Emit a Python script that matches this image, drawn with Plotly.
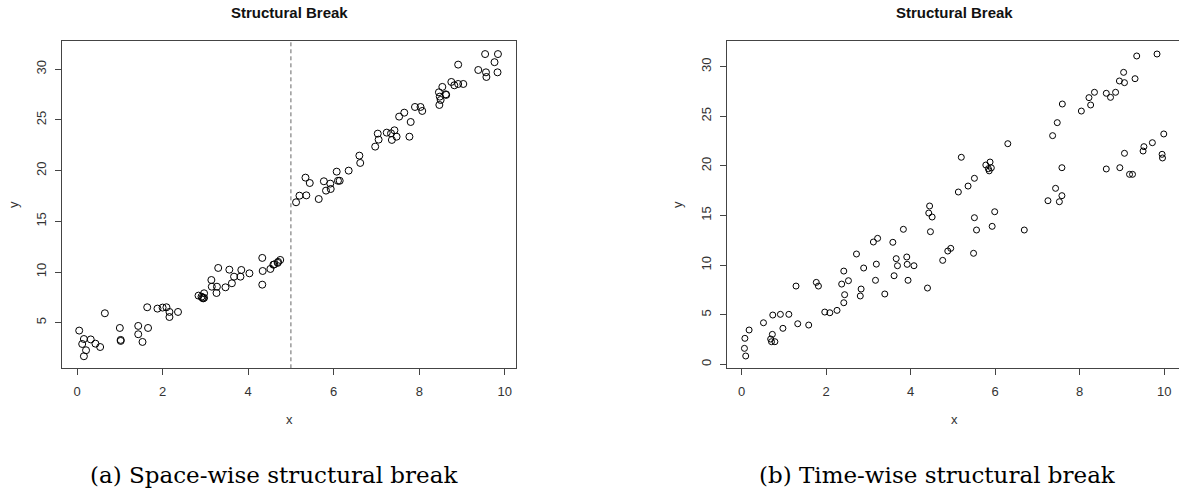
import plotly.graph_objects as go

# ---- data: panel (a) space-wise break ----
xa = [0.05, 0.16, 0.12, 0.32, 0.43, 0.54, 0.21, 0.16, 0.65, 1.00,
      1.02, 1.02, 1.43, 1.43, 1.53, 1.66, 1.64, 1.88, 2.00, 2.09,
      2.16, 2.16, 2.36, 2.84, 2.91, 2.95, 2.97, 2.97, 2.93, 3.14,
      3.15, 3.27, 3.26, 3.30, 3.47, 3.56, 3.62, 3.67, 3.82, 3.84,
      4.03, 4.33, 4.34, 4.33, 4.52, 4.59, 4.61, 4.69, 4.70, 4.75,
      5.12, 5.20, 5.36, 5.34, 5.44, 5.65, 5.77, 5.82, 5.93, 5.92,
      6.07, 6.10, 6.14, 6.35, 6.60, 6.62, 6.97, 7.03, 7.05, 7.24,
      7.34, 7.36, 7.42, 7.47, 7.53, 7.65, 7.77, 7.80, 7.90, 8.03,
      8.07, 8.46, 8.47, 8.48, 8.50, 8.54, 8.62, 8.63, 8.75, 8.82,
      8.91, 8.91, 9.03, 9.38, 9.54, 9.56, 9.57, 9.76, 9.83, 9.84]
ya = [4.22, 3.39, 2.90, 3.35, 2.93, 2.60, 2.28, 1.69, 5.93, 4.48,
      3.30, 3.20, 4.68, 3.86, 3.10, 4.48, 6.52, 6.39, 6.49, 6.52,
      6.06, 5.56, 6.06, 7.67, 7.57, 7.40, 7.45, 7.90, 7.45, 9.21,
      8.55, 8.55, 7.93, 10.40, 8.49, 10.23, 8.89, 9.54, 9.54, 10.20,
      9.87, 11.39, 10.10, 8.75, 10.30, 10.72, 10.75, 10.90, 11.00, 11.19,
      16.88, 17.53, 17.56, 19.31, 18.78, 17.20, 18.95, 18.03, 18.19, 18.72,
      19.90, 19.00, 19.00, 20.00, 21.48, 20.76, 22.37, 23.65, 23.06, 23.75,
      23.68, 23.03, 23.98, 23.35, 25.33, 25.72, 23.35, 24.80, 26.28, 26.28,
      25.89, 27.73, 26.48, 27.30, 26.97, 28.26, 27.53, 27.47, 28.75, 28.42,
      28.55, 30.46, 28.55, 29.93, 31.50, 29.70, 29.24, 30.70, 29.70, 31.50]
break_x = 5

# ---- data: panel (b) time-wise break ----
xb = [0.10, 0.07, 0.08, 0.18, 0.52, 0.73, 0.69, 0.71, 0.79, 0.74,
      0.92, 0.98, 1.12, 1.29, 1.33, 1.59, 1.77, 1.82, 1.97, 2.09,
      2.26, 2.37, 2.42, 2.42, 2.44, 2.53, 2.72, 2.81, 2.83, 2.89,
      3.12, 3.17, 3.19, 3.22, 3.39, 3.58, 3.61, 3.66, 3.69, 3.83,
      3.91, 3.92, 3.94, 4.08, 4.40, 4.43, 4.45, 4.47, 4.51, 4.76,
      4.88, 4.95, 5.13, 5.20, 5.36, 5.49, 5.51, 5.51, 5.56, 5.78,
      5.84, 5.86, 5.88, 5.91, 5.93, 5.99, 6.30, 6.69, 7.25, 7.36,
      7.43, 7.47, 7.52, 7.58, 7.58, 7.59, 8.04, 8.22, 8.26, 8.35,
      8.63, 8.63, 8.73, 8.85, 8.94, 8.95, 9.04, 9.06, 9.06, 9.18,
      9.25, 9.31, 9.35, 9.50, 9.52, 9.72, 9.83, 9.95, 9.96, 9.99]
yb = [0.84, 1.61, 2.62, 3.46, 4.19, 3.02, 2.55, 2.28, 2.28, 4.97,
      5.04, 3.63, 5.04, 7.89, 4.09, 3.96, 8.26, 7.89, 5.27, 5.20,
      5.44, 8.09, 9.40, 6.21, 7.02, 8.43, 11.12, 6.89, 7.59, 9.71,
      12.33, 8.47, 10.10, 12.70, 7.09, 12.30, 8.93, 10.65, 9.94, 13.61,
      10.82, 10.08, 8.47, 9.94, 7.69, 15.25, 15.96, 13.37, 14.85, 10.48,
      11.42, 11.69, 17.37, 20.87, 17.97, 11.19, 14.78, 18.75, 13.54, 20.09,
      19.72, 19.50, 20.39, 19.80, 13.91, 15.38, 22.24, 13.54, 16.49, 23.05,
      17.74, 24.36, 16.39, 17.00, 19.82, 26.24, 25.53, 26.88, 26.14, 27.42,
      27.32, 19.69, 26.91, 27.42, 28.56, 19.82, 29.43, 28.39, 21.27, 19.15,
      19.15, 28.79, 31.08, 21.50, 21.94, 22.34, 31.28, 21.17, 20.80, 23.22]

x_ticks = [0, 2, 4, 6, 8, 10]
ya_ticks = [5, 10, 15, 20, 25, 30]
yb_ticks = [0, 5, 10, 15, 20, 25, 30]
title_text = "Structural Break"
captions = ["(a) Space-wise structural break", "(b) Time-wise structural break"]

W, H = 1179, 492
def px(v):
    return v / W
def py(v):
    return 1 - v / H

AX = "#444444"
SANS = "Liberation Sans, Arial, sans-serif"
TICKFONT = dict(family=SANS, size=13, color="#333333")

fig = go.Figure()
fig.add_trace(go.Scatter(x=xa, y=ya, mode="markers", xaxis="x", yaxis="y",
                         marker=dict(symbol="circle-open", size=7, color="black",
                                     line=dict(width=1, color="black")),
                         showlegend=False, hoverinfo="x+y"))
fig.add_trace(go.Scatter(x=xb, y=yb, mode="markers", xaxis="x2", yaxis="y2",
                         marker=dict(symbol="circle-open", size=6, color="black",
                                     line=dict(width=1, color="black")),
                         showlegend=False, hoverinfo="x+y"))

common_x = dict(tickvals=x_ticks, ticks="outside", ticklen=6, tickwidth=1, tickcolor=AX,
                showline=True, linecolor=AX, linewidth=1, mirror=True,
                showgrid=False, zeroline=False, tickfont=TICKFONT, ticklabelstandoff=5)
common_y = dict(ticks="outside", ticklen=6, tickwidth=1, tickcolor=AX,
                showline=True, linecolor=AX, linewidth=1,
                showgrid=False, zeroline=False, tickfont=TICKFONT, tickangle=-90,
                ticklabelstandoff=4)

ydom = [py(368.3), py(41.3)]
fig.update_layout(
    width=W, height=H, margin=dict(l=0, r=0, t=0, b=0),
    paper_bgcolor="white", plot_bgcolor="white",
    xaxis=dict(domain=[px(62.3), px(515.7)], range=[-0.345, 10.255], anchor="y", **common_x),
    yaxis=dict(domain=ydom, range=[0.50, 32.76], anchor="x", tickvals=ya_ticks, mirror=True, **common_y),
    xaxis2=dict(domain=[px(726.7), 1.0], range=[-0.35, 10.35], anchor="y2", **common_x),
    yaxis2=dict(domain=ydom, range=[-0.40, 32.56], anchor="x2", tickvals=yb_ticks, mirror=False, **common_y),
)

fig.add_shape(type="line", xref="x", yref="y domain", x0=break_x, x1=break_x, y0=0, y1=1,
              line=dict(color="#666666", width=1, dash="4px,3px"))

ann = []
for cx in (289, 954):
    ann.append(dict(text="<b>%s</b>" % title_text, x=px(cx), y=py(12.7), xref="paper", yref="paper",
                    showarrow=False, xanchor="center", yanchor="middle",
                    font=dict(family=SANS, size=15, color="#111111")))
for cx in (289, 954):
    ann.append(dict(text="x", x=px(cx), y=py(419), xref="paper", yref="paper",
                    showarrow=False, xanchor="center", yanchor="middle",
                    font=dict(family=SANS, size=13, color="#333333")))
for cx in (13, 677):
    ann.append(dict(text="y", x=px(cx), y=py(205), xref="paper", yref="paper", textangle=-90,
                    showarrow=False, xanchor="center", yanchor="middle",
                    font=dict(family=SANS, size=13, color="#333333")))
for cx, cap in zip((274, 937), captions):
    ann.append(dict(text=cap, x=px(cx), y=py(475), xref="paper", yref="paper",
                    showarrow=False, xanchor="center", yanchor="middle",
                    font=dict(family="DejaVu Serif, Liberation Serif, serif", size=23, color="black")))
fig.update_layout(annotations=ann)

fig.write_html("out.html")
